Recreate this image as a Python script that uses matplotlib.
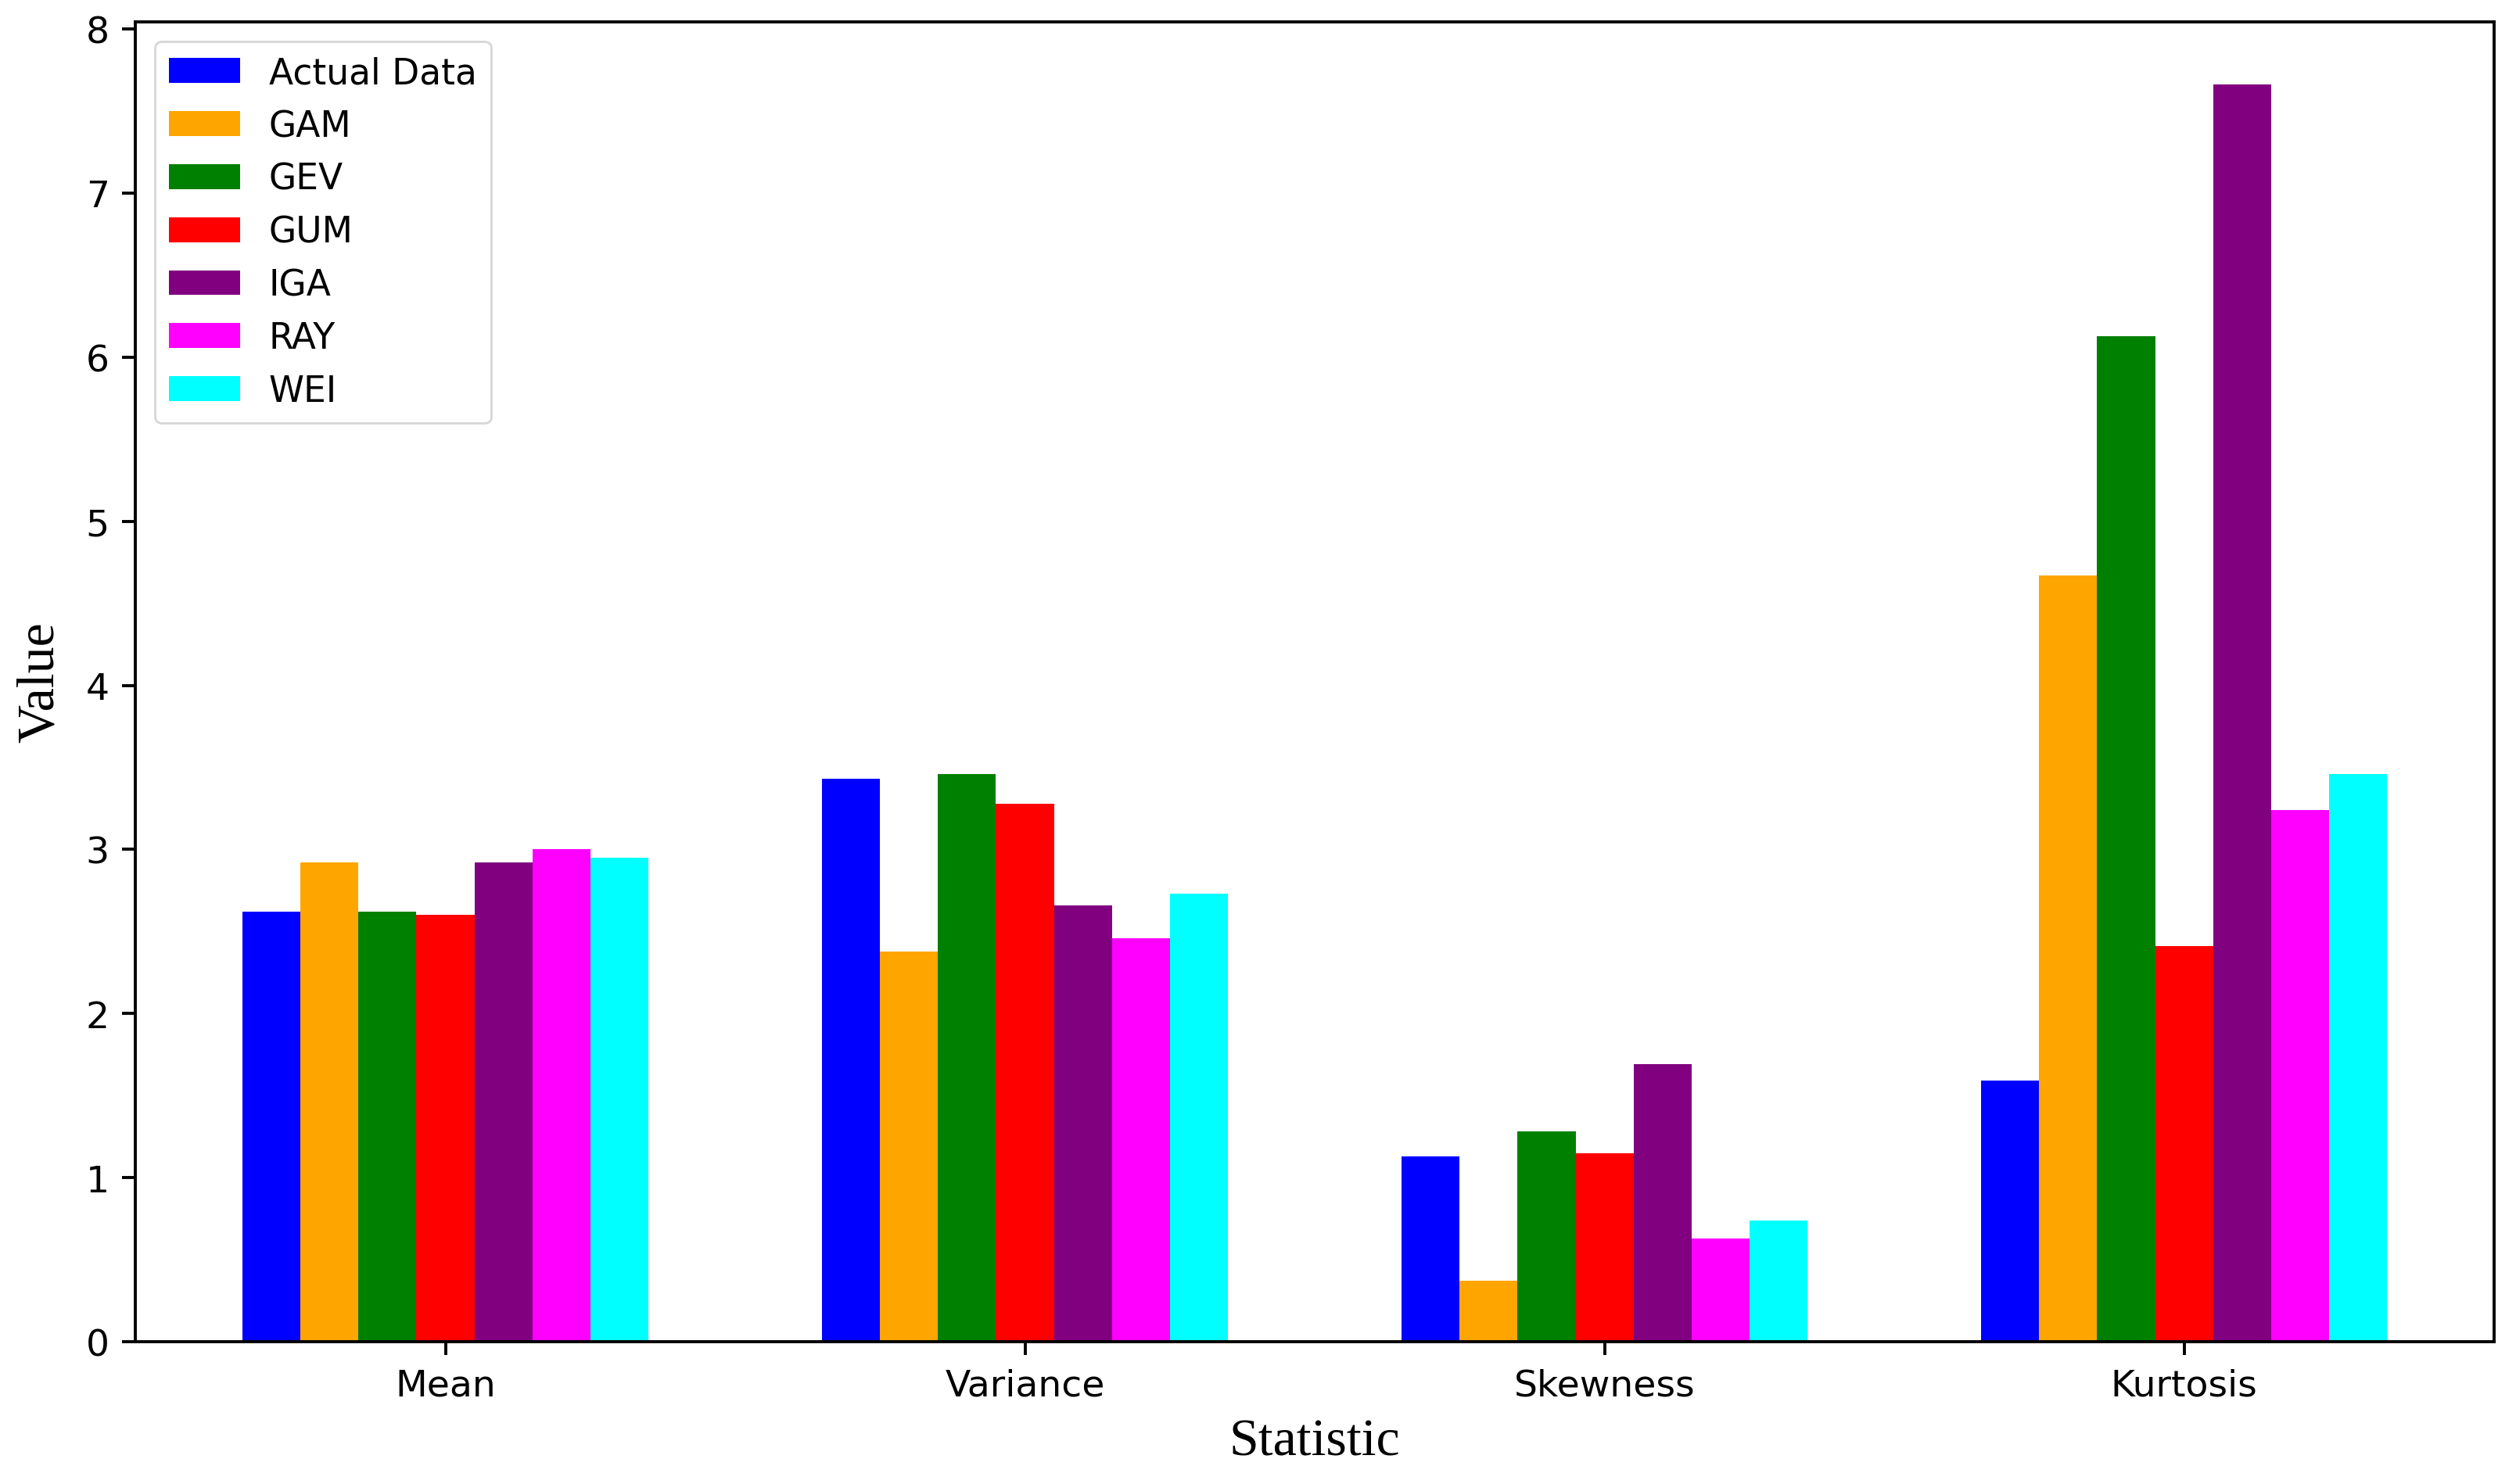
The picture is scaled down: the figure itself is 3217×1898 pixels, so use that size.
import numpy as np
import matplotlib.pyplot as plt

# 统计量和各分布的数值
statistics = ['Mean', 'Variance', 'Skewness', 'Kurtosis']
series_names = ['Actual Data', 'GAM', 'GEV', 'GUM', 'IGA', 'RAY', 'WEI']
series_colors = ['blue', 'orange', 'green', 'red', 'purple', 'magenta', 'cyan']

actual_data = [2.62, 3.43, 1.13, 1.59]
gam = [2.92, 2.38, 0.37, 4.67]
gev = [2.62, 3.46, 1.28, 6.13]
gum = [2.60, 3.28, 1.15, 2.41]
iga = [2.92, 2.66, 1.69, 7.66]
ray = [3.00, 2.46, 0.63, 3.24]
wei = [2.95, 2.73, 0.74, 3.46]

all_series = [actual_data, gam, gev, gum, iga, ray, wei]

fig = plt.figure(figsize=(16.085, 9.495), dpi=200)
ax = fig.add_axes([0.0538, 0.0958, 0.9375, 0.8889])

x_positions = np.arange(len(statistics))
bar_width = 0.1
n = len(all_series)

for i, (name, values, color) in enumerate(zip(series_names, all_series, series_colors)):
    offset = (i - (n - 1) / 2) * bar_width
    ax.bar(x_positions + offset, values, width=bar_width, color=color, label=name)

ax.set_xticks(x_positions)
ax.set_xticklabels(statistics)
ax.tick_params(axis='both', labelsize=17, length=6, width=1.4, pad=6)
for spine in ax.spines.values():
    spine.set_linewidth(1.4)

ax.set_xlabel('Statistic', fontsize=24.5, family='Liberation Serif', labelpad=7)
ax.set_ylabel('Value', fontsize=24.5, family='Liberation Serif', labelpad=10)

ax.legend(loc='upper left', fontsize=16.4, borderaxespad=0.55)

fig.savefig('out.png', dpi=200)
